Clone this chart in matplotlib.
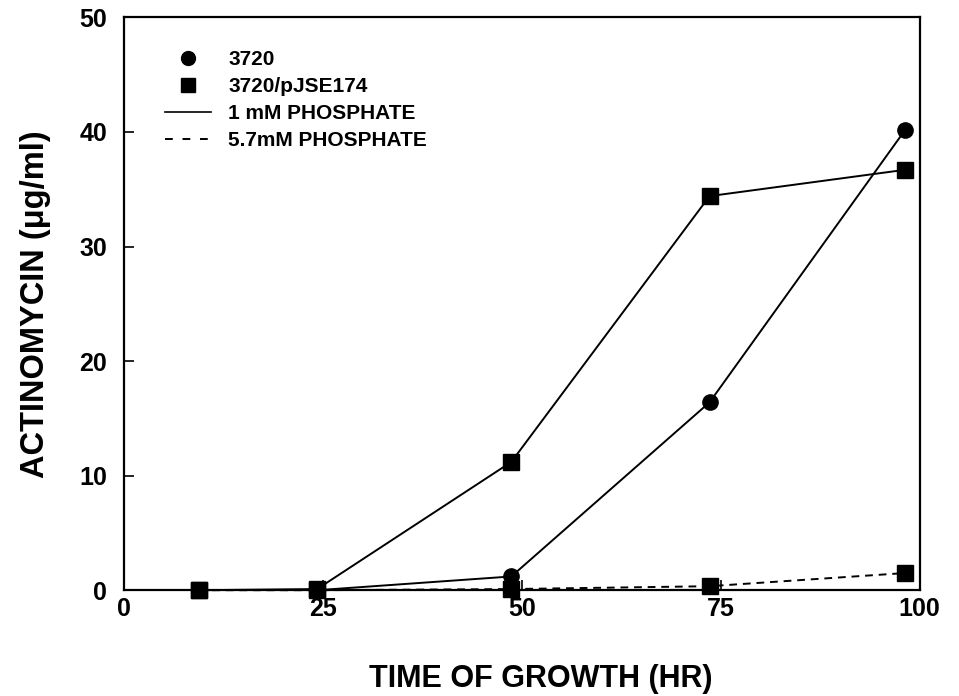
import matplotlib
matplotlib.use("Agg")
import matplotlib.pyplot as plt
from matplotlib.lines import Line2D

plt.rcParams['font.family'] = ['Liberation Sans', 'DejaVu Sans']
plt.rcParams['font.weight'] = 'bold'

# ------------------------------ Data ------------------------------

# time of growth (hr)
time_3720 = [24.3, 48.7, 73.6, 98.2]
time_pjse = [9.4, 24.3, 48.7, 73.6, 98.2]

# actinomycin (ug/ml)
act_3720_1mm = [0.0, 1.2, 16.4, 40.2]
act_pjse_1mm = [0.0, 0.1, 11.2, 34.4, 36.7]
act_pjse_57mm = [0.0, 0.0, 0.1, 0.35, 1.5]

x_ticks = [0, 25, 50, 75, 100]
y_ticks = [0, 10, 20, 30, 40, 50]

# ------------------------------ Plot ------------------------------

fig = plt.figure(figsize=(9.59, 6.96), dpi=100)
ax = fig.add_axes([0.129, 0.152, 0.830, 0.823])

lw = 1.4
ms = 11

ax.plot(time_pjse, act_pjse_57mm, color='black', linestyle=(0, (4, 3)), linewidth=lw,
        marker='s', markersize=ms, clip_on=False, zorder=3)
ax.plot(time_pjse, act_pjse_1mm, color='black', linestyle='-', linewidth=lw,
        marker='s', markersize=ms, clip_on=False, zorder=3)
ax.plot(time_3720, act_3720_1mm, color='black', linestyle='-', linewidth=lw,
        marker='o', markersize=ms, clip_on=False, zorder=3)

ax.set_xlim(0, 100)
ax.set_ylim(0, 50)
ax.set_xticks(x_ticks)
ax.set_yticks(y_ticks)
ax.tick_params(axis='both', direction='in', length=7, width=1.2, labelsize=18)
ax.tick_params(axis='y', pad=12)
ax.tick_params(axis='x', pad=5)

for s in ax.spines.values():
    s.set_linewidth(1.6)

ax.set_xlabel('TIME OF GROWTH (HR)', fontsize=22, fontweight='bold')
ax.xaxis.set_label_coords(0.524, -0.128)
ax.set_ylabel('ACTINOMYCIN (\u03bcg/ml)', fontsize=23.5, fontweight='bold', labelpad=20)

# legend
handles = [
    Line2D([], [], color='black', linestyle='none', marker='o', markersize=10),
    Line2D([], [], color='black', linestyle='none', marker='s', markersize=10),
    Line2D([], [], color='black', linestyle='-', linewidth=1.2),
    Line2D([], [], color='black', linestyle=(0, (4, 5)), linewidth=1.4),
]
labels = ['3720', '3720/pJSE174', '1 mM PHOSPHATE', '5.7mM PHOSPHATE']
ax.legend(handles, labels, loc='upper left', bbox_to_anchor=(0.028, 0.975), frameon=False,
          prop={'size': 15, 'weight': 'bold'}, handlelength=2.2, handletextpad=0.85,
          labelspacing=0.38)

fig.savefig('out.png', dpi=100)
